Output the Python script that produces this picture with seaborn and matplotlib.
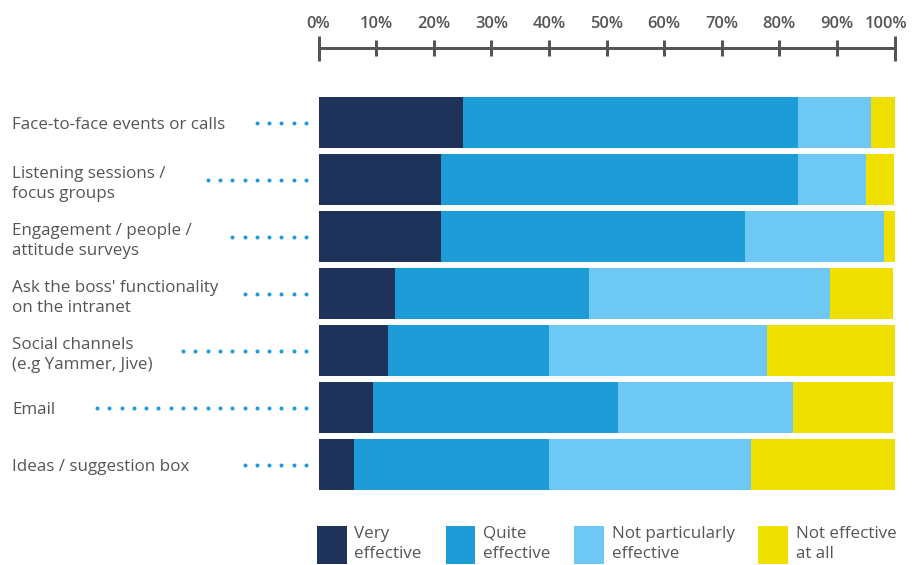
import matplotlib
matplotlib.use("Agg")
import matplotlib.pyplot as plt
import matplotlib.transforms as mtransforms
from matplotlib.patches import Patch
import numpy as np
import pandas as pd
import seaborn as sns

# survey data (% of respondents)
channels = [
    "Face-to-face events or calls",
    "Listening sessions /\nfocus groups",
    "Engagement / people /\nattitude surveys",
    "Ask the boss' functionality\non the intranet",
    "Social channels\n(e.g Yammer, Jive)",
    "Email",
    "Ideas / suggestion box",
]
very_effective = [25.1, 21.3, 21.3, 13.3, 12.1, 9.4, 6.2]
quite_effective = [58.1, 61.9, 52.7, 33.6, 27.9, 42.6, 33.8]
not_particularly = [12.8, 11.8, 24.1, 41.9, 37.8, 30.3, 35.0]
not_at_all = [4.0, 4.9, 1.9, 10.9, 22.2, 17.5, 25.0]

levels = ["Very\neffective", "Quite\neffective",
          "Not particularly\neffective", "Not effective\nat all"]
colors = ["#1f3259", "#1e9cd7", "#6dc8f3", "#f0e000"]
leader_dots = [5, 9, 7, 6, 11, 18, 6]
tick_values = list(range(0, 101, 10))
tick_labels = [f"{v}%" for v in tick_values]

TEXT = "#555555"
W, H, DPI = 913, 565, 72
FS = 17

df = pd.DataFrame({"channel": channels,
                   levels[0]: very_effective,
                   levels[1]: quite_effective,
                   levels[2]: not_particularly,
                   levels[3]: not_at_all})
cum = df[levels].cumsum(axis=1)
cum["channel"] = channels

sns.set_theme(style="white")
plt.rcParams["font.family"] = ["Open Sans", "DejaVu Sans"]

fig = plt.figure(figsize=(W / DPI, H / DPI), dpi=DPI)
ax = fig.add_axes([318.5 / W, 1 - 493 / H, 576 / W, 399 / H])

# stacked bars: draw cumulative totals from the back to the front
for level, color in reversed(list(zip(levels, colors))):
    sns.barplot(data=cum, x=level, y="channel", order=channels, orient="h",
                color=color, saturation=1, width=0.9, errorbar=None,
                linewidth=0, ax=ax)

ax.set_xlim(0, 100)
ax.set_ylim(len(channels) - 0.5, -0.5)
ax.set_xlabel("")
ax.set_ylabel("")

# category labels, left aligned at the figure edge
ax.tick_params(axis="y", length=0, pad=306.5, labelsize=FS, labelcolor=TEXT)
for lbl in ax.get_yticklabels():
    lbl.set_ha("left")
    lbl.set_linespacing(1.35)

# dotted leaders
trans = mtransforms.blended_transform_factory(fig.transFigure, ax.transData)
for i, n in enumerate(leader_dots):
    xs = (306 - 12.3 * np.arange(n)) / W
    ax.scatter(xs, [i] * n, s=16, color="#1e9cd7", linewidths=0,
               transform=trans, clip_on=False)

# percentage scale on top
for side in ["left", "right", "bottom"]:
    ax.spines[side].set_visible(False)
ax.spines["top"].set_position(("outward", 46))
ax.spines["top"].set_linewidth(3)
ax.spines["top"].set_color(TEXT)
ax.xaxis.set_ticks_position("top")
ax.set_xticks([0, 100], [tick_labels[0], tick_labels[-1]])
ax.set_xticks(tick_values[1:-1], tick_labels[1:-1], minor=True)
ax.tick_params(axis="x", which="both", direction="inout", width=3,
               color=TEXT, labelsize=16.5, labelcolor=TEXT,
               top=True, bottom=False, labeltop=True, labelbottom=False)
ax.tick_params(axis="x", which="major", length=25, pad=3)
ax.tick_params(axis="x", which="minor", length=16, pad=7.5)
for lbl in ax.get_xticklabels(which="both"):
    lbl.set_fontweight("semibold")
# keep the last label inside the canvas
last = ax.get_xticklabels()[-1]
last.set_transform(last.get_transform()
                   + mtransforms.ScaledTranslation(-8 / DPI, 0, fig.dpi_scale_trans))

handles = [Patch(facecolor=c, edgecolor="none") for c in colors]
leg = fig.legend(handles, levels, loc="upper left",
                 bbox_to_anchor=(317 / W, 1 - 526 / H), ncol=4, frameon=False,
                 fontsize=FS, labelcolor=TEXT, handlelength=1.75,
                 handleheight=3.0, handletextpad=0.45, columnspacing=1.4,
                 borderpad=0, borderaxespad=0)
for t in leg.get_texts():
    t.set_linespacing(1.35)

fig.savefig("out.png", dpi=DPI)
